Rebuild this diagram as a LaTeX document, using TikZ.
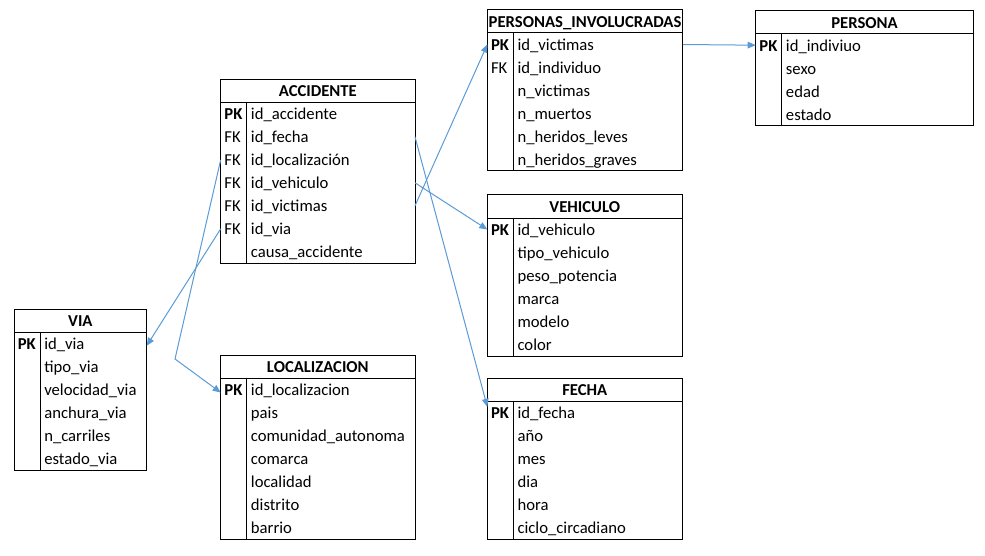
\documentclass[tikz,border=0pt]{standalone}
\usepackage{fontspec}
\setmainfont{Carlito}
\usetikzlibrary{arrows.meta,calc}
\definecolor{linkblue}{HTML}{5B9BD5}
\tikzset{
  tbl/.style={draw=black, line width=0.75pt, inner sep=0pt, outer sep=0pt, anchor=north west},
  hdr/.style={font=\fontsize{12.5}{14}\selectfont\bfseries, inner sep=0pt, anchor=base},
  keyt/.style={font=\fontsize{12.5}{14}\selectfont, inner sep=0pt, anchor=base west},
  fld/.style={font=\fontsize{12.5}{14}\selectfont, inner sep=0pt, anchor=base west},
  gridline/.style={draw=black, line width=0.75pt},
  fkline/.style={draw=linkblue, line width=0.75pt, -{Triangle[length=6pt,width=5pt]}},
}
% #1 name, #2 left, #3 top, #4 width, #5 rows, #6 title, #7 key/field list
\newcommand\ertable[7]{%
  \node[tbl, minimum width={#4*0.75pt}, minimum height={(23+#5*23)*0.75pt}] (#1) at (#2,#3) {};
  \node[hdr] (#1-h) at ($(#1.north west)+(#4/2,17.5)$) {#6};
  \draw[gridline] ($(#1.north west)+(0,23)$) -- ($(#1.north east)+(0,23)$);
  \draw[gridline] ($(#1.north west)+(26,23)$) -- ($(#1.south west)+(26,0)$);
  \foreach \k/\f [count=\i] in {#7} {
    \node[keyt] (#1-k\i) at ($(#1.north west)+(3.5,17.6+23*\i)$) {\k};
    \node[fld] (#1-f\i) at ($(#1.north west)+(30,17.6+23*\i)$) {\f};
    \coordinate (#1-w\i) at ($(#1.north west)+(0,11.5+23*\i)$);
    \coordinate (#1-e\i) at ($(#1.north east)+(0,11.5+23*\i)$);
  }
}
\begin{document}
\begin{tikzpicture}[x=0.75pt,y=-0.75pt]
\useasboundingbox (0,0) rectangle (985,556);

\ertable{acc}{220.7}{79.3}{194.3}{7}{ACCIDENTE}{\textbf{PK}/id\_accidente, FK/id\_fecha, FK/id\_localización, FK/id\_vehiculo, FK/id\_victimas, FK/id\_via, {}/causa\_accidente}
\ertable{via}{14}{309.3}{132.7}{6}{VIA}{\textbf{PK}/id\_via, {}/tipo\_via, {}/velocidad\_via, {}/anchura\_via, {}/n\_carriles, {}/estado\_via}
\ertable{loc}{220.7}{355}{194.3}{7}{LOCALIZACION}{\textbf{PK}/id\_localizacion, {}/pais, {}/comunidad\_autonoma, {}/comarca, {}/localidad, {}/distrito, {}/barrio}
\ertable{pinv}{487.3}{10}{195.5}{6}{PERSONAS\_INVOLUCRADAS}{\textbf{PK}/id\_victimas, FK/id\_individuo, {}/n\_victimas, {}/n\_muertos, {}/n\_heridos\_leves, {}/n\_heridos\_graves}
\ertable{pers}{755.7}{10.7}{217.6}{4}{PERSONA}{\textbf{PK}/id\_indiviuo, {}/sexo, {}/edad, {}/estado}
\ertable{veh}{487.3}{195}{195}{6}{VEHICULO}{\textbf{PK}/id\_vehiculo, {}/tipo\_vehiculo, {}/peso\_potencia, {}/marca, {}/modelo, {}/color}
\ertable{fecha}{487.3}{378.3}{195}{6}{FECHA}{\textbf{PK}/id\_fecha, {}/año, {}/mes, {}/dia, {}/hora, {}/ciclo\_circadiano}

\coordinate (bendL) at (175,359);
\draw[fkline] (acc-w3) -- (bendL) -- ($(loc-w1)+(0,3)$);
\draw[fkline] (acc-w6) -- ($(via-e1)+(0,2)$);
\draw[fkline] (acc-e2) -- ($(fecha-w1)+(0,-6)$);
\draw[fkline] (acc-e4) -- (veh-w1);
\draw[fkline] (acc-e5) -- (pinv-w1);
\draw[fkline] (pinv-e1) -- (pers-w1);
\end{tikzpicture}
\end{document}
